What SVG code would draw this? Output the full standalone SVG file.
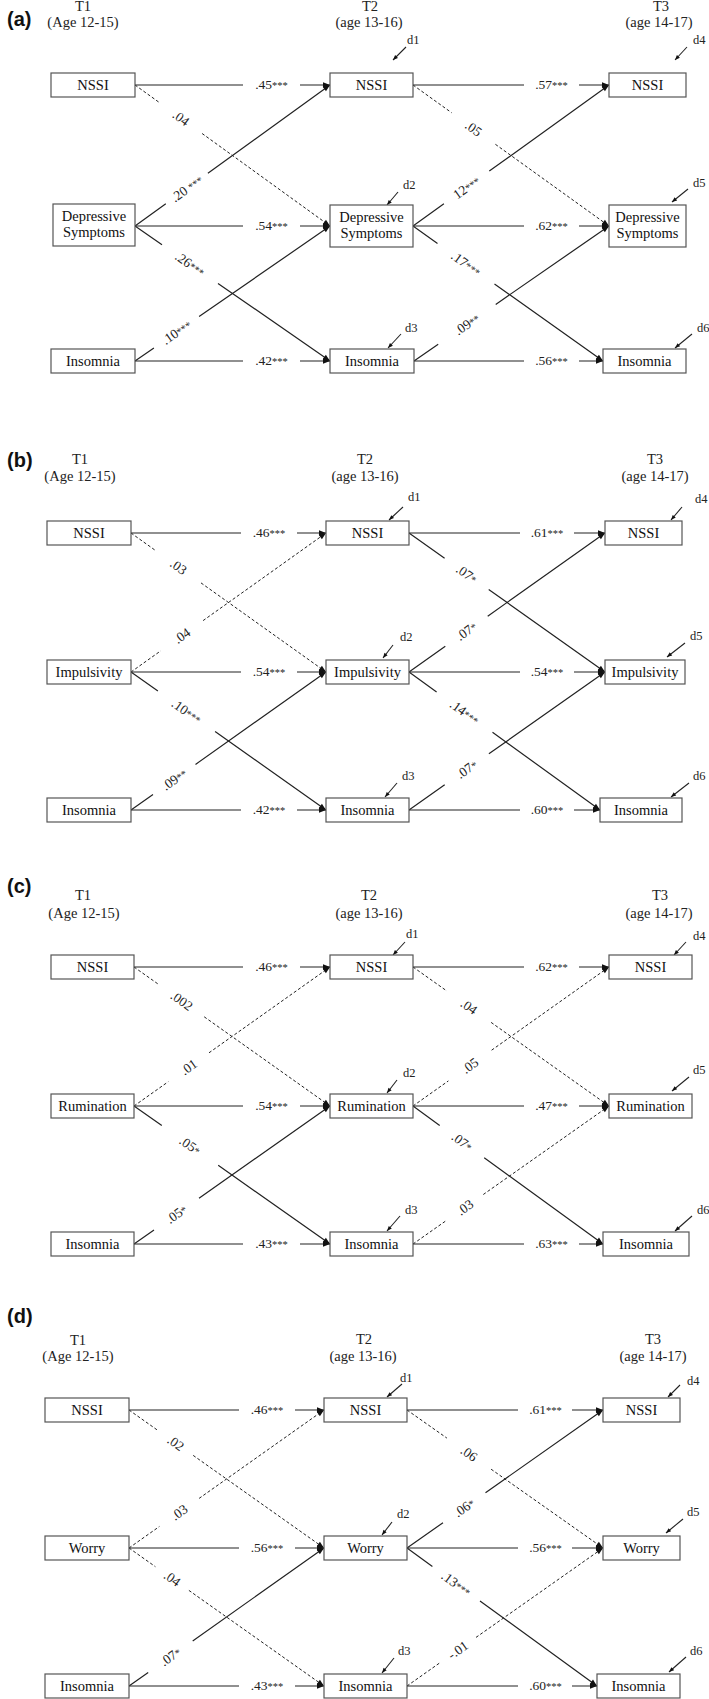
<svg xmlns="http://www.w3.org/2000/svg" width="709" height="1699" viewBox="0 0 709 1699">
<style>
.bg{fill:#fff}
.box rect{fill:#fff;stroke:#555;stroke-width:1.2}
.box text{font-family:"Liberation Serif",serif;font-size:14.5px;text-anchor:middle;fill:#111}
.hdr{font-family:"Liberation Serif",serif;font-size:14.5px;text-anchor:middle;fill:#222}
.pl{font-family:"Liberation Sans",Arial,sans-serif;font-weight:bold;font-size:20px;fill:#111}
.ln{stroke:#222;stroke-width:1.2;fill:none}
.dash{stroke-dasharray:3 2.2;stroke-width:1}
.el{font-family:"Liberation Serif",serif;font-size:13.5px;text-anchor:middle;fill:#222}
.st{font-size:10.5px}
.dl{font-family:"Liberation Serif",serif;font-size:12.5px;fill:#222}
.da{stroke:#222;stroke-width:1.1;fill:none}
</style>
<defs>
<marker id="ah" viewBox="0 0 10 10" refX="10" refY="5" markerWidth="8" markerHeight="7" markerUnits="userSpaceOnUse" orient="auto"><path d="M0,1 L10,5 L0,9 z" fill="#111"/></marker>
<marker id="ahs" viewBox="0 0 10 10" refX="10" refY="5" markerWidth="6" markerHeight="5" markerUnits="userSpaceOnUse" orient="auto"><path d="M0,1 L10,5 L0,9 z" fill="#111"/></marker>
</defs>
<rect class="bg" x="0" y="0" width="709" height="1699"/>

<!-- ===================== PANEL A ===================== -->
<g id="panel-a-headers">
<text class="pl" x="7" y="26">(a)</text>
<text class="hdr" x="83" y="11">T1</text>
<text class="hdr" x="83" y="27">(Age 12-15)</text>
<text class="hdr" x="370" y="11">T2</text>
<text class="hdr" x="369" y="27">(age 13-16)</text>
<text class="hdr" x="661" y="11">T3</text>
<text class="hdr" x="659" y="27">(age 14-17)</text>
</g>
<g id="panel-a-connectors">
<path class="ln" marker-end="url(#ah)" d="M135 85 L243 85 M300 85 L330 85"/>
<path class="ln" marker-end="url(#ah)" d="M135 226 L243 226 M300 226 L330 226"/>
<path class="ln" marker-end="url(#ah)" d="M135 361 L243 361 M300 361 L330 361"/>
<path class="ln" marker-end="url(#ah)" d="M413 85 L524 85 M579 85 L609 85"/>
<path class="ln" marker-end="url(#ah)" d="M413 226 L524 226 M579 226 L609 226"/>
<path class="ln" marker-end="url(#ah)" d="M414 361 L524 361 M579 361 L603 361"/>
<path class="ln dash" marker-end="url(#ah)" d="M135 85 L160 103 M202.1 133.5 L330 226"/>
<path class="ln" marker-end="url(#ah)" d="M135 226 L165.8 203.7 M207.9 173.3 L330 85"/>
<path class="ln" marker-end="url(#ah)" d="M135 226 L162 244.7 M218 283.4 L330 361"/>
<path class="ln" marker-end="url(#ah)" d="M135 361 L153.9 347.9 M199.1 316.6 L330 226"/>
<path class="ln dash" marker-end="url(#ah)" d="M413 85 L451.6 112.7 M495.4 144.3 L609 226"/>
<path class="ln" marker-end="url(#ah)" d="M413 226 L443.9 203.8 M489.3 171.1 L609 85"/>
<path class="ln" marker-end="url(#ah)" d="M413 226 L437.5 243.4 M494.5 283.9 L603 361"/>
<path class="ln" marker-end="url(#ah)" d="M414 361 L438.2 344.3 M495.7 304.4 L609 226"/>
<path class="da" marker-end="url(#ahs)" d="M406 47 L393 60"/>
<path class="da" marker-end="url(#ahs)" d="M687 47 L675 60"/>
<path class="da" marker-end="url(#ahs)" d="M398 192 L387 205"/>
<path class="da" marker-end="url(#ahs)" d="M688 189 L672 202"/>
<path class="da" marker-end="url(#ahs)" d="M401 334 L388 348"/>
<path class="da" marker-end="url(#ahs)" d="M692 334 L675 348"/>
<text class="el" x="271.5" y="89">.45<tspan class="st">***</tspan></text>
<text class="el" x="271.5" y="230">.54<tspan class="st">***</tspan></text>
<text class="el" x="271.5" y="365">.42<tspan class="st">***</tspan></text>
<text class="el" x="551.5" y="89">.57<tspan class="st">***</tspan></text>
<text class="el" x="551.5" y="230">.62<tspan class="st">***</tspan></text>
<text class="el" x="551.5" y="365">.56<tspan class="st">***</tspan></text>
<text class="el" transform="translate(181 118) rotate(35.9)" y="4.5">.04</text>
<text class="el" transform="translate(186.9 188.5) rotate(-35.9)" y="4.5">.20 <tspan class="st">***</tspan></text>
<text class="el" transform="translate(190 264.1) rotate(34.7)" y="4.5">.26<tspan class="st">***</tspan></text>
<text class="el" transform="translate(176.5 332.3) rotate(-34.7)" y="4.5">.10<tspan class="st">***</tspan></text>
<text class="el" transform="translate(473.5 128.5) rotate(35.7)" y="4.5">.05</text>
<text class="el" transform="translate(466.6 187.5) rotate(-35.7)" y="4.5">12<tspan class="st">***</tspan></text>
<text class="el" transform="translate(466 263.6) rotate(35.4)" y="4.5">.17<tspan class="st">***</tspan></text>
<text class="el" transform="translate(467 324.3) rotate(-34.7)" y="4.5">.09<tspan class="st">**</tspan></text>
<text class="dl" x="407" y="44">d1</text>
<text class="dl" x="693" y="44">d4</text>
<text class="dl" x="403" y="189">d2</text>
<text class="dl" x="693" y="187">d5</text>
<text class="dl" x="405" y="332">d3</text>
<text class="dl" x="697" y="332">d6</text>
</g>
<g id="a-t1-nssi" class="box"><rect x="51" y="73" width="84" height="24"/><text x="93" y="90">NSSI</text></g>
<g id="a-t2-nssi" class="box"><rect x="330" y="73" width="83" height="24"/><text x="371.5" y="90">NSSI</text></g>
<g id="a-t3-nssi" class="box"><rect x="609" y="73" width="77" height="24"/><text x="647.5" y="90">NSSI</text></g>
<g id="a-t1-dep" class="box"><rect x="53" y="204" width="82" height="42"/><text x="94" y="221">Depressive</text><text x="94" y="237">Symptoms</text></g>
<g id="a-t2-dep" class="box"><rect x="330" y="205" width="83" height="42"/><text x="371.5" y="222">Depressive</text><text x="371.5" y="238">Symptoms</text></g>
<g id="a-t3-dep" class="box"><rect x="609" y="205" width="77" height="42"/><text x="647.5" y="222">Depressive</text><text x="647.5" y="238">Symptoms</text></g>
<g id="a-t1-ins" class="box"><rect x="51" y="349" width="84" height="24"/><text x="93" y="366">Insomnia</text></g>
<g id="a-t2-ins" class="box"><rect x="330" y="349" width="84" height="24"/><text x="372" y="366">Insomnia</text></g>
<g id="a-t3-ins" class="box"><rect x="603" y="349" width="83" height="24"/><text x="644.5" y="366">Insomnia</text></g>

<!-- ===================== PANEL B ===================== -->
<g id="panel-b-headers">
<text class="pl" x="7" y="467">(b)</text>
<text class="hdr" x="80" y="464">T1</text>
<text class="hdr" x="80" y="481">(Age 12-15)</text>
<text class="hdr" x="365" y="464">T2</text>
<text class="hdr" x="365" y="481">(age 13-16)</text>
<text class="hdr" x="655" y="464">T3</text>
<text class="hdr" x="655" y="481">(age 14-17)</text>
</g>
<g id="panel-b-connectors">
<path class="ln" marker-end="url(#ah)" d="M131 533 L241 533 M297 533 L326 533"/>
<path class="ln" marker-end="url(#ah)" d="M131 672 L241 672 M297 672 L326 672"/>
<path class="ln" marker-end="url(#ah)" d="M131 810 L241 810 M297 810 L326 810"/>
<path class="ln" marker-end="url(#ah)" d="M409 533 L520 533 M574 533 L605 533"/>
<path class="ln" marker-end="url(#ah)" d="M409 672 L520 672 M574 672 L605 672"/>
<path class="ln" marker-end="url(#ah)" d="M409 810 L520 810 M574 810 L600 810"/>
<path class="ln dash" marker-end="url(#ah)" d="M131 533 L156.2 551 M201 582.9 L326 672"/>
<path class="ln dash" marker-end="url(#ah)" d="M131 672 L160.8 650.8 M203.1 620.6 L326 533"/>
<path class="ln" marker-end="url(#ah)" d="M131 672 L157.9 691.1 M215.1 731.5 L326 810"/>
<path class="ln" marker-end="url(#ah)" d="M131 810 L153 794.4 M195.5 764.4 L326 672"/>
<path class="ln" marker-end="url(#ah)" d="M409 533 L444.6 558.3 M488.7 589.5 L605 672"/>
<path class="ln" marker-end="url(#ah)" d="M409 672 L445.3 646.3 M487.7 616.2 L605 533"/>
<path class="ln" marker-end="url(#ah)" d="M409 672 L436.6 691.9 M492.5 732.3 L600 810"/>
<path class="ln" marker-end="url(#ah)" d="M409 810 L444.7 784.8 M488.9 753.8 L605 672"/>
<path class="da" marker-end="url(#ahs)" d="M403 507 L389 520"/>
<path class="da" marker-end="url(#ahs)" d="M682 507 L671 520"/>
<path class="da" marker-end="url(#ahs)" d="M393 645 L383 658"/>
<path class="da" marker-end="url(#ahs)" d="M685 643 L667 657"/>
<path class="da" marker-end="url(#ahs)" d="M397 783 L385 797"/>
<path class="da" marker-end="url(#ahs)" d="M689 783 L671 797"/>
<text class="el" x="269" y="537">.46<tspan class="st">***</tspan></text>
<text class="el" x="269" y="676">.54<tspan class="st">***</tspan></text>
<text class="el" x="269" y="814">.42<tspan class="st">***</tspan></text>
<text class="el" x="547" y="537">.61<tspan class="st">***</tspan></text>
<text class="el" x="547" y="676">.54<tspan class="st">***</tspan></text>
<text class="el" x="547" y="814">.60<tspan class="st">***</tspan></text>
<text class="el" transform="translate(178.5 566.8) rotate(35.5)" y="4.5">.03</text>
<text class="el" transform="translate(182 635.7) rotate(-35.5)" y="4.5">.04</text>
<text class="el" transform="translate(186.5 711.3) rotate(35.3)" y="4.5">.10<tspan class="st">***</tspan></text>
<text class="el" transform="translate(174.3 779.4) rotate(-35.3)" y="4.5">.09<tspan class="st">**</tspan></text>
<text class="el" transform="translate(466.7 573.9) rotate(35.35)" y="4.5">.07<tspan class="st">*</tspan></text>
<text class="el" transform="translate(466.5 631.2) rotate(-35.35)" y="4.5">.07<tspan class="st">*</tspan></text>
<text class="el" transform="translate(464.5 712.1) rotate(35.85)" y="4.5">.14<tspan class="st">***</tspan></text>
<text class="el" transform="translate(466.8 769.3) rotate(-35.15)" y="4.5">.07<tspan class="st">*</tspan></text>
<text class="dl" x="408" y="501">d1</text>
<text class="dl" x="695" y="503">d4</text>
<text class="dl" x="400" y="641">d2</text>
<text class="dl" x="690" y="640">d5</text>
<text class="dl" x="402" y="780">d3</text>
<text class="dl" x="693" y="780">d6</text>
</g>
<g id="b-t1-nssi" class="box"><rect x="47" y="521" width="84" height="24"/><text x="89" y="538">NSSI</text></g>
<g id="b-t2-nssi" class="box"><rect x="326" y="521" width="83" height="24"/><text x="367.5" y="538">NSSI</text></g>
<g id="b-t3-nssi" class="box"><rect x="605" y="521" width="77" height="24"/><text x="643.5" y="538">NSSI</text></g>
<g id="b-t1-imp" class="box"><rect x="47" y="660" width="84" height="24"/><text x="89" y="677">Impulsivity</text></g>
<g id="b-t2-imp" class="box"><rect x="326" y="660" width="83" height="24"/><text x="367.5" y="677">Impulsivity</text></g>
<g id="b-t3-imp" class="box"><rect x="605" y="660" width="80" height="24"/><text x="645" y="677">Impulsivity</text></g>
<g id="b-t1-ins" class="box"><rect x="47" y="798" width="84" height="24"/><text x="89" y="815">Insomnia</text></g>
<g id="b-t2-ins" class="box"><rect x="326" y="798" width="83" height="24"/><text x="367.5" y="815">Insomnia</text></g>
<g id="b-t3-ins" class="box"><rect x="600" y="798" width="82" height="24"/><text x="641" y="815">Insomnia</text></g>

<!-- ===================== PANEL C ===================== -->
<g id="panel-c-headers">
<text class="pl" x="7" y="893">(c)</text>
<text class="hdr" x="83" y="900">T1</text>
<text class="hdr" x="84" y="918">(Age 12-15)</text>
<text class="hdr" x="369" y="900">T2</text>
<text class="hdr" x="369" y="918">(age 13-16)</text>
<text class="hdr" x="660" y="900">T3</text>
<text class="hdr" x="659" y="918">(age 14-17)</text>
</g>
<g id="panel-c-connectors">
<path class="ln" marker-end="url(#ah)" d="M134 967 L243 967 M300 967 L330 967"/>
<path class="ln" marker-end="url(#ah)" d="M134 1106 L243 1106 M300 1106 L330 1106"/>
<path class="ln" marker-end="url(#ah)" d="M134 1244 L243 1244 M300 1244 L330 1244"/>
<path class="ln" marker-end="url(#ah)" d="M413 967 L524 967 M579 967 L609 967"/>
<path class="ln" marker-end="url(#ah)" d="M413 1106 L524 1106 M579 1106 L609 1106"/>
<path class="ln" marker-end="url(#ah)" d="M413 1244 L524 1244 M579 1244 L603 1244"/>
<path class="ln dash" marker-end="url(#ah)" d="M134 967 L159.3 984.9 M204.2 1016.8 L330 1106"/>
<path class="ln dash" marker-end="url(#ah)" d="M134 1106 L168.3 1081.7 M209 1052.8 L330 967"/>
<path class="ln" marker-end="url(#ah)" d="M134 1106 L161.8 1125.6 M218.2 1165.3 L330 1244"/>
<path class="ln" marker-end="url(#ah)" d="M134 1244 L154 1229.9 M199 1198.2 L330 1106"/>
<path class="ln dash" marker-end="url(#ah)" d="M413 967 L447 991.1 M491.1 1022.4 L609 1106"/>
<path class="ln dash" marker-end="url(#ah)" d="M413 1106 L448.4 1080.9 M491.6 1050.2 L609 967"/>
<path class="ln" marker-end="url(#ah)" d="M413 1106 L439.7 1125.4 M484.2 1157.7 L603 1244"/>
<path class="ln dash" marker-end="url(#ah)" d="M413 1244 L446.5 1220.4 M483.3 1194.5 L609 1106"/>
<path class="da" marker-end="url(#ahs)" d="M405 942 L393 955"/>
<path class="da" marker-end="url(#ahs)" d="M686 942 L674 955"/>
<path class="da" marker-end="url(#ahs)" d="M397 1080 L387 1093"/>
<path class="da" marker-end="url(#ahs)" d="M689 1077 L672 1091"/>
<path class="da" marker-end="url(#ahs)" d="M400 1216 L387 1231"/>
<path class="da" marker-end="url(#ahs)" d="M692 1216 L675 1231"/>
<text class="el" x="271.5" y="971">.46<tspan class="st">***</tspan></text>
<text class="el" x="271.5" y="1110">.54<tspan class="st">***</tspan></text>
<text class="el" x="271.5" y="1248">.43<tspan class="st">***</tspan></text>
<text class="el" x="551.5" y="971">.62<tspan class="st">***</tspan></text>
<text class="el" x="551.5" y="1110">.47<tspan class="st">***</tspan></text>
<text class="el" x="551.5" y="1248">.63<tspan class="st">***</tspan></text>
<text class="el" transform="translate(181.7 1000.8) rotate(35.35)" y="4.5">.002</text>
<text class="el" transform="translate(188.8 1067.1) rotate(-35.35)" y="4.5">.01</text>
<text class="el" transform="translate(190 1145.4) rotate(35.15)" y="4.5">.05<tspan class="st">*</tspan></text>
<text class="el" transform="translate(176.5 1214.1) rotate(-35.15)" y="4.5">.05<tspan class="st">*</tspan></text>
<text class="el" transform="translate(469 1006.7) rotate(35.35)" y="4.5">.04</text>
<text class="el" transform="translate(470 1065.6) rotate(-35.35)" y="4.5">.05</text>
<text class="el" transform="translate(462 1141.6) rotate(36)" y="4.5">.07<tspan class="st">*</tspan></text>
<text class="el" transform="translate(465 1207.4) rotate(-35.15)" y="4.5">.03</text>
<text class="dl" x="406" y="938">d1</text>
<text class="dl" x="693" y="940">d4</text>
<text class="dl" x="403" y="1077">d2</text>
<text class="dl" x="693" y="1074">d5</text>
<text class="dl" x="405" y="1214">d3</text>
<text class="dl" x="697" y="1214">d6</text>
</g>
<g id="c-t1-nssi" class="box"><rect x="51" y="955" width="83" height="24"/><text x="92.5" y="972">NSSI</text></g>
<g id="c-t2-nssi" class="box"><rect x="330" y="955" width="83" height="24"/><text x="371.5" y="972">NSSI</text></g>
<g id="c-t3-nssi" class="box"><rect x="609" y="955" width="83" height="24"/><text x="650.5" y="972">NSSI</text></g>
<g id="c-t1-rum" class="box"><rect x="51" y="1094" width="83" height="24"/><text x="92.5" y="1111">Rumination</text></g>
<g id="c-t2-rum" class="box"><rect x="330" y="1094" width="83" height="24"/><text x="371.5" y="1111">Rumination</text></g>
<g id="c-t3-rum" class="box"><rect x="609" y="1094" width="83" height="24"/><text x="650.5" y="1111">Rumination</text></g>
<g id="c-t1-ins" class="box"><rect x="51" y="1232" width="83" height="24"/><text x="92.5" y="1249">Insomnia</text></g>
<g id="c-t2-ins" class="box"><rect x="330" y="1232" width="83" height="24"/><text x="371.5" y="1249">Insomnia</text></g>
<g id="c-t3-ins" class="box"><rect x="603" y="1232" width="86" height="24"/><text x="646" y="1249">Insomnia</text></g>

<!-- ===================== PANEL D ===================== -->
<g id="panel-d-headers">
<text class="pl" x="7" y="1323">(d)</text>
<text class="hdr" x="78" y="1345">T1</text>
<text class="hdr" x="78" y="1361">(Age 12-15)</text>
<text class="hdr" x="364" y="1344">T2</text>
<text class="hdr" x="363" y="1361">(age 13-16)</text>
<text class="hdr" x="653" y="1344">T3</text>
<text class="hdr" x="653" y="1361">(age 14-17)</text>
</g>
<g id="panel-d-connectors">
<path class="ln" marker-end="url(#ah)" d="M129 1410 L239 1410 M295 1410 L324 1410"/>
<path class="ln" marker-end="url(#ah)" d="M129 1548 L239 1548 M295 1548 L324 1548"/>
<path class="ln" marker-end="url(#ah)" d="M129 1686 L239 1686 M295 1686 L324 1686"/>
<path class="ln" marker-end="url(#ah)" d="M407 1410 L518 1410 M572 1410 L603 1410"/>
<path class="ln" marker-end="url(#ah)" d="M407 1548 L518 1548 M572 1548 L603 1548"/>
<path class="ln" marker-end="url(#ah)" d="M407 1686 L518 1686 M572 1686 L597 1686"/>
<path class="ln dash" marker-end="url(#ah)" d="M129 1410 L158.4 1430.8 M193.2 1455.4 L324 1548"/>
<path class="ln dash" marker-end="url(#ah)" d="M129 1548 L159.4 1526.5 M199.1 1498.4 L324 1410"/>
<path class="ln dash" marker-end="url(#ah)" d="M129 1548 L155.4 1566.7 M188.9 1590.4 L324 1686"/>
<path class="ln" marker-end="url(#ah)" d="M129 1686 L148.2 1672.4 M192.7 1640.9 L324 1548"/>
<path class="ln dash" marker-end="url(#ah)" d="M407 1410 L446.9 1438.1 M491.1 1469.2 L603 1548"/>
<path class="ln" marker-end="url(#ah)" d="M407 1548 L443 1522.7 M485.5 1492.7 L603 1410"/>
<path class="ln" marker-end="url(#ah)" d="M407 1548 L432.4 1566.5 M480 1601 L597 1686"/>
<path class="ln dash" marker-end="url(#ah)" d="M407 1686 L440 1662.7 M476 1637.4 L603 1548"/>
<path class="da" marker-end="url(#ahs)" d="M402 1384 L387 1397"/>
<path class="da" marker-end="url(#ahs)" d="M680 1385 L668 1397"/>
<path class="da" marker-end="url(#ahs)" d="M392 1522 L382 1535"/>
<path class="da" marker-end="url(#ahs)" d="M683 1519 L666 1533"/>
<path class="da" marker-end="url(#ahs)" d="M394 1658 L382 1673"/>
<path class="da" marker-end="url(#ahs)" d="M686 1657 L669 1672"/>
<text class="el" x="267" y="1414">.46<tspan class="st">***</tspan></text>
<text class="el" x="267" y="1552">.56<tspan class="st">***</tspan></text>
<text class="el" x="267" y="1690">.43<tspan class="st">***</tspan></text>
<text class="el" x="545.5" y="1414">.61<tspan class="st">***</tspan></text>
<text class="el" x="545.5" y="1552">.56<tspan class="st">***</tspan></text>
<text class="el" x="545.5" y="1690">.60<tspan class="st">***</tspan></text>
<text class="el" transform="translate(175.8 1443.1) rotate(35.3)" y="4.5">.02</text>
<text class="el" transform="translate(179.3 1512.4) rotate(-35.3)" y="4.5">.03</text>
<text class="el" transform="translate(172.2 1578.6) rotate(35.3)" y="4.5">.04</text>
<text class="el" transform="translate(170.5 1656.7) rotate(-35.3)" y="4.5">.07<tspan class="st">*</tspan></text>
<text class="el" transform="translate(469 1453.6) rotate(35.15)" y="4.5">.06</text>
<text class="el" transform="translate(464.2 1507.7) rotate(-35.15)" y="4.5">.06<tspan class="st">*</tspan></text>
<text class="el" transform="translate(456.2 1583.7) rotate(36)" y="4.5">.13<tspan class="st">***</tspan></text>
<text class="el" transform="translate(458 1650.1) rotate(-35.15)" y="4.5">-.01</text>
<text class="dl" x="400" y="1382">d1</text>
<text class="dl" x="687" y="1385">d4</text>
<text class="dl" x="397" y="1518">d2</text>
<text class="dl" x="687" y="1516">d5</text>
<text class="dl" x="398" y="1655">d3</text>
<text class="dl" x="690" y="1655">d6</text>
</g>
<g id="d-t1-nssi" class="box"><rect x="45" y="1398" width="84" height="24"/><text x="87" y="1415">NSSI</text></g>
<g id="d-t2-nssi" class="box"><rect x="324" y="1398" width="83" height="24"/><text x="365.5" y="1415">NSSI</text></g>
<g id="d-t3-nssi" class="box"><rect x="603" y="1398" width="77" height="24"/><text x="641.5" y="1415">NSSI</text></g>
<g id="d-t1-wor" class="box"><rect x="45" y="1536" width="84" height="24"/><text x="87" y="1553">Worry</text></g>
<g id="d-t2-wor" class="box"><rect x="324" y="1536" width="83" height="24"/><text x="365.5" y="1553">Worry</text></g>
<g id="d-t3-wor" class="box"><rect x="603" y="1536" width="77" height="24"/><text x="641.5" y="1553">Worry</text></g>
<g id="d-t1-ins" class="box"><rect x="45" y="1674" width="84" height="24"/><text x="87" y="1691">Insomnia</text></g>
<g id="d-t2-ins" class="box"><rect x="324" y="1674" width="83" height="24"/><text x="365.5" y="1691">Insomnia</text></g>
<g id="d-t3-ins" class="box"><rect x="597" y="1674" width="83" height="24"/><text x="638.5" y="1691">Insomnia</text></g>
</svg>
